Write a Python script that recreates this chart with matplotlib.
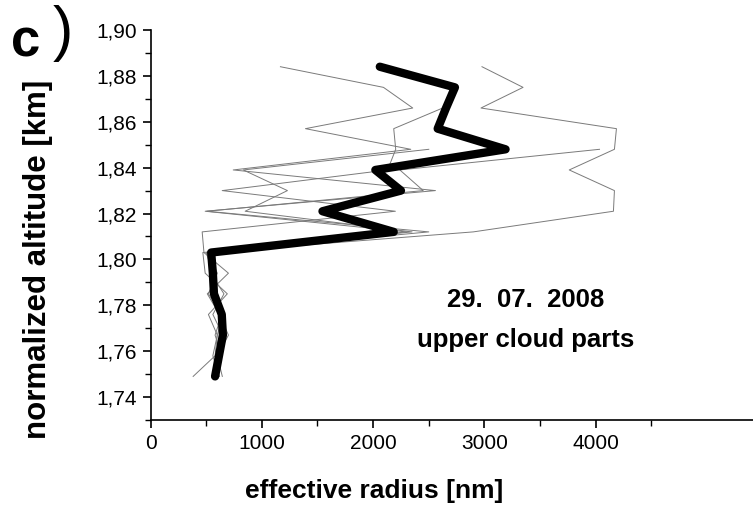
import matplotlib
matplotlib.use("Agg")
import matplotlib.pyplot as plt
import numpy as np
from matplotlib.ticker import FixedLocator, MultipleLocator, FuncFormatter

plt.rcParams["font.family"] = ["Liberation Sans", "DejaVu Sans"]

nan = np.nan

# altitude levels of the profiles [km]
altitude = [1.884, 1.875, 1.866, 1.857, 1.848, 1.839, 1.830, 1.821,
            1.812, 1.803, 1.794, 1.785, 1.776, 1.767, 1.758, 1.749]

# single profiles, effective radius [nm]
profile_1 = [1167, 2093, 2356, 1392, 2338, 743, 2560, 491,
             2300, 470, 491, 690, 520, 600, 580, 383]
profile_2 = [nan, nan, 2625, 2185, 2203, 2130, 644, 2200,
             464, 480, 700, 510, 620, 700, 600, 645]
profile_3 = [nan, nan, nan, nan, 2500, 833, 1230, 850,
             2350, 500, 560, 600, 650, 600, 560, 620]
profile_4 = [2978, 3347, 2969, 4186, 4168, 3762, 4168, 4159,
             2900, 520, 600, 520, 640, 580, 640, 600]
profile_5 = [nan, nan, nan, nan, 4034, 2240, 2450, 505,
             2500, 520, 540, 660, 560, 650, 620, 560]

# mean profile
mean_radius = [2060, 2735, 2655, 2580, 3190, 2020, 2250, 1545,
               2185, 545, 560, 570, 640, 650, 615, 580]

date_label = "29.  07.  2008"
case_label = "upper cloud parts"

fig = plt.figure(figsize=(7.53, 5.07), dpi=100)
ax = fig.add_axes([0.1999, 0.1716, 0.8001, 0.7692])

for prof in (profile_1, profile_2, profile_3, profile_4, profile_5):
    ax.plot(prof, altitude, color="#7a7a7a", linewidth=0.7)
ax.plot(mean_radius, altitude, color="black", linewidth=6.0,
        solid_capstyle="round", solid_joinstyle="round")

ax.set_xlim(0, 5413)
ax.set_ylim(1.73, 1.90)

ax.xaxis.set_major_locator(FixedLocator([0, 1000, 2000, 3000, 4000]))
ax.xaxis.set_minor_locator(FixedLocator([500, 1500, 2500, 3500, 4500]))
ax.yaxis.set_major_locator(FixedLocator([1.74, 1.76, 1.78, 1.80, 1.82,
                                         1.84, 1.86, 1.88, 1.90]))
ax.yaxis.set_minor_locator(MultipleLocator(0.01))
ax.yaxis.set_major_formatter(FuncFormatter(lambda v, p: f"{v:.2f}".replace(".", ",")))

for side in ("top", "right"):
    ax.spines[side].set_visible(False)
for side in ("left", "bottom"):
    ax.spines[side].set_linewidth(1.2)

ax.tick_params(which="major", direction="out", length=6, width=1.2,
               labelsize=15, pad=4)
ax.tick_params(which="minor", direction="out", length=4, width=1.0)

ax.set_xlabel("effective radius [nm]", fontsize=19, fontweight="bold")
ax.xaxis.set_label_coords(0.371, -0.152)
ax.set_ylabel("normalized altitude [km]", fontsize=22.5, fontweight="bold")
ax.yaxis.set_label_coords(-0.162, 0.413)

ax.text(0.622, 0.308, date_label, transform=ax.transAxes, ha="center",
        va="center", fontsize=18.5, fontweight="bold")
ax.text(0.622, 0.205, case_label, transform=ax.transAxes, ha="center",
        va="center", fontsize=18.5, fontweight="bold")

fig.text(0.014, 0.965, "c", fontsize=38, fontweight="bold", va="top")
fig.text(0.07, 0.99, ")", fontsize=44, va="top")

fig.savefig("out.png", dpi=100)
